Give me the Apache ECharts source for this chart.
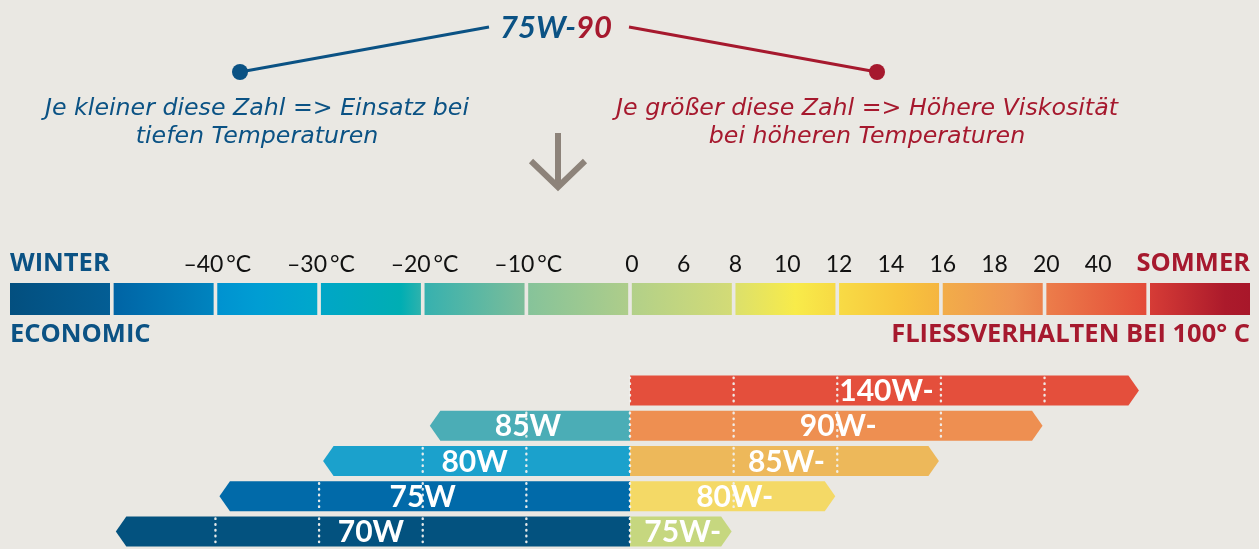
<!DOCTYPE html>
<html>
<head>
<meta charset="utf-8">
<title>75W-90</title>
<script src="https://cdn.jsdelivr.net/npm/echarts@6/dist/echarts.min.js"></script>
<style>
html, body { margin: 0; padding: 0; background: #EAE8E3; }
#main { width: 1259px; height: 549px; }
</style>
</head>
<body>
<div id="main"></div>
<script>
// Skala in Segment-Einheiten (0..12), 12 Farbfelder
var segments = [0, 1, 2, 3, 4, 5, 6, 7, 8, 9, 10, 11];
var tickPos = [2, 3, 4, 5, 6, 6.5, 7, 7.5, 8, 8.5, 9, 9.5, 10, 10.5];
var tickText = ['–40\u2009°C', '–30\u2009°C', '–20\u2009°C', '–10\u2009°C', '0', '6', '8', '10', '12', '14', '16', '18', '20', '40'];

// Winter-Klassen (links), von .. bis
var winterGrades = ['85W', '80W', '75W', '70W'];
var winterFrom = [4.03, 3, 2, 1];
var winterTo = [6, 6, 6, 6];
var winterRow = [1, 2, 3, 4];

// Sommer-Klassen (rechts)
var summerGrades = ['140W-', '90W-', '85W-', '80W-', '75W-'];
var summerFrom = [6, 6, 6, 6, 6];
var summerTo = [10.93, 10, 9, 8, 7];
var summerRow = [0, 1, 2, 3, 4];

var rows = ['r1', 'r2', 'r3', 'r4', 'r5'];

// Farben
var BLUE = '#0B5284';
var RED = '#A6192E';
var segStops = [
  [[0, '#034F7F'], [1, '#035E95']],
  [[0, '#0064A5'], [1, '#0084BF']],
  [[0, '#0092D0'], [0.4, '#009DD3'], [1, '#00A8CB']],
  [[0, '#00A6C7'], [0.8, '#00AEB3'], [1, '#2DB2AD']],
  [[0, '#36B1AF'], [1, '#7CBD99']],
  [[0, '#86C39A'], [1, '#AECD8A']],
  [[0, '#B2D089'], [1, '#D3DB76']],
  [[0, '#DCE06B'], [0.6, '#F8EB4A'], [1, '#F7DA44']],
  [[0, '#F8DB45'], [0.6, '#F8C53C'], [1, '#F5B540']],
  [[0, '#F2AD49'], [0.7, '#EF9453'], [1, '#EC834D']],
  [[0, '#EC7D4A'], [1, '#E34B39']],
  [[0, '#D63C36'], [0.75, '#AC1A2B'], [1, '#A8172A']]
];
var winterColors = ['#4BADB6', '#1BA1CC', '#016AA9', '#03527F'];
var summerColors = ['#E44F3C', '#EE8F51', '#EDB85A', '#F4D966', '#C6D77F'];

var GAP = 3.64; // Luecke zwischen den Feldern in px

function tickLabel(v) {
  for (var i = 0; i < tickPos.length; i++) {
    if (Math.abs(tickPos[i] - v) < 0.01) return tickText[i];
  }
  return '';
}

function renderSegment(params, api) {
  var k = api.value(0);
  var p0 = api.coord([k, 1]);
  var p1 = api.coord([k + 1, 0]);
  return {
    type: 'rect',
    shape: { x: p0[0], y: p0[1], width: p1[0] - p0[0] - GAP, height: p1[1] - p0[1] },
    style: {
      fill: new echarts.graphic.LinearGradient(0, 0, 1, 0, segStops[k].map(function (s) {
        return { offset: s[0], color: s[1] };
      }))
    }
  };
}

// Pfeil-Balken: dir -1 = nach links, +1 = nach rechts
function arrowRenderer(dir, names, colors) {
  return function (params, api) {
    var from = api.value(0), to = api.value(1), row = api.value(2), idx = api.value(3);
    var pc = api.coord([from, row]);
    var bLeft = pc[0] - GAP / 2;
    var bRight = api.coord([to, row])[0] - GAP / 2;
    var yc = pc[1], y0 = yc - 15, y1 = yc + 15;
    var head = 10.5, pts, tip, textX;
    if (dir < 0) {
      tip = bLeft + 4;
      pts = [[tip, yc], [tip + head, y0], [bRight, y0], [bRight, y1], [tip + head, y1]];
      textX = (tip + bRight) / 2 - 2;
    } else {
      tip = bRight - 2;
      pts = [[bLeft, y0], [tip - head, y0], [tip, yc], [tip - head, y1], [bLeft, y1]];
      textX = (bLeft + tip) / 2 + 2;
    }
    var children = [{
      type: 'polygon',
      shape: { points: pts },
      style: { fill: colors[idx] }
    }];
    for (var k = Math.ceil(from); k <= Math.floor(to); k++) {
      if (dir < 0 ? k <= from : k >= to) continue;
      var bx = api.coord([k, row])[0] - GAP / 2;
      children.push({
        type: 'line',
        shape: { x1: bx, y1: y0 + 2, x2: bx, y2: y1 },
        style: { stroke: 'rgba(240,240,238,0.95)', lineWidth: 2.4, lineDash: [0.5, 5.3], lineCap: 'round' }
      });
    }
    children.push({
      type: 'text',
      style: {
        text: names[idx], x: textX, y: yc + 1,
        align: 'center', verticalAlign: 'middle',
        fill: '#ffffff', font: 'bold 30px Lato'
      }
    });
    return { type: 'group', children: children };
  };
}

var winterData = winterGrades.map(function (g, i) {
  return [winterFrom[i], winterTo[i], winterRow[i], i];
});
var summerData = summerGrades.map(function (g, i) {
  return [summerFrom[i], summerTo[i], summerRow[i], i];
});

var myChart = echarts.init(document.getElementById('main'));

var italic = 'oblique 23.7px "DejaVu Sans"';
var heavy = 'bold 25.5px "Open Sans"';

myChart.setOption({
  backgroundColor: '#EAE8E3',
  animation: false,
  grid: [
    { left: 10, width: 1243.64, top: 283, height: 32 },
    { left: 10, width: 1243.64, top: 373, height: 180 }
  ],
  xAxis: [
    {
      gridIndex: 0, type: 'value', min: 0, max: 12, interval: 0.5, position: 'top',
      axisLine: { show: false }, axisTick: { show: false }, splitLine: { show: false },
      axisLabel: {
        show: true, margin: 7, color: '#111111', fontSize: 23, fontFamily: 'Lato',
        formatter: tickLabel, showMinLabel: true, showMaxLabel: true
      }
    },
    {
      gridIndex: 1, type: 'value', min: 0, max: 12, show: false
    }
  ],
  yAxis: [
    { gridIndex: 0, type: 'value', min: 0, max: 1, show: false },
    { gridIndex: 1, type: 'category', data: rows, inverse: true, show: false }
  ],
  series: [
    {
      type: 'custom', xAxisIndex: 0, yAxisIndex: 0,
      renderItem: renderSegment,
      data: segments.map(function (k) { return [k]; }),
      encode: { x: 0 }, clip: false, silent: true
    },
    {
      type: 'custom', xAxisIndex: 1, yAxisIndex: 1,
      renderItem: arrowRenderer(-1, winterGrades, winterColors),
      data: winterData,
      encode: { x: [0, 1], y: 2 }, clip: false, silent: true
    },
    {
      type: 'custom', xAxisIndex: 1, yAxisIndex: 1,
      renderItem: arrowRenderer(1, summerGrades, summerColors),
      data: summerData,
      encode: { x: [0, 1], y: 2 }, clip: false, silent: true
    }
  ],
  graphic: [
    {
      type: 'line', shape: { x1: 240, y1: 72, x2: 489, y2: 27 },
      style: { stroke: BLUE, lineWidth: 3 }
    },
    { type: 'circle', shape: { cx: 240, cy: 72, r: 8 }, style: { fill: BLUE } },
    {
      type: 'line', shape: { x1: 629, y1: 27, x2: 877, y2: 72 },
      style: { stroke: RED, lineWidth: 3 }
    },
    { type: 'circle', shape: { cx: 877, cy: 72, r: 8 }, style: { fill: RED } },
    {
      type: 'text', x: 556, y: 28,
      style: {
        text: '{b|75W-}{r|90}', align: 'center', verticalAlign: 'middle',
        rich: {
          b: { fill: BLUE, font: 'italic bold 31px Lato' },
          r: { fill: RED, font: 'italic bold 31px Lato' }
        }
      }
    },
    {
      type: 'text', x: 257, y: 109,
      style: { text: 'Je kleiner diese Zahl => Einsatz bei', align: 'center', verticalAlign: 'middle', fill: BLUE, font: italic }
    },
    {
      type: 'text', x: 257, y: 137,
      style: { text: 'tiefen Temperaturen', align: 'center', verticalAlign: 'middle', fill: BLUE, font: italic }
    },
    {
      type: 'text', x: 867, y: 109,
      style: { text: 'Je größer diese Zahl => Höhere Viskosität', align: 'center', verticalAlign: 'middle', fill: RED, font: italic }
    },
    {
      type: 'text', x: 867, y: 137,
      style: { text: 'bei höheren Temperaturen', align: 'center', verticalAlign: 'middle', fill: RED, font: italic }
    },
    // Pfeil nach unten
    {
      type: 'line', shape: { x1: 558, y1: 133, x2: 558, y2: 186 },
      style: { stroke: '#8D837A', lineWidth: 6 }
    },
    {
      type: 'polyline', shape: { points: [[531, 161], [558, 187], [585, 161]] },
      style: { stroke: '#8D837A', lineWidth: 6, lineJoin: 'miter', fill: null }
    },
    // Beschriftung der Skala
    {
      type: 'text', x: 10, y: 264,
      style: { text: 'WINTER', align: 'left', verticalAlign: 'middle', fill: BLUE, font: heavy }
    },
    {
      type: 'text', x: 10, y: 335,
      style: { text: 'ECONOMIC', align: 'left', verticalAlign: 'middle', fill: BLUE, font: heavy }
    },
    {
      type: 'text', x: 1250, y: 264,
      style: { text: 'SOMMER', align: 'right', verticalAlign: 'middle', fill: RED, font: heavy }
    },
    {
      type: 'text', x: 1250, y: 335,
      style: { text: 'FLIESSVERHALTEN BEI 100° C', align: 'right', verticalAlign: 'middle', fill: RED, font: heavy }
    }
  ]
});
</script>
</body>
</html>
